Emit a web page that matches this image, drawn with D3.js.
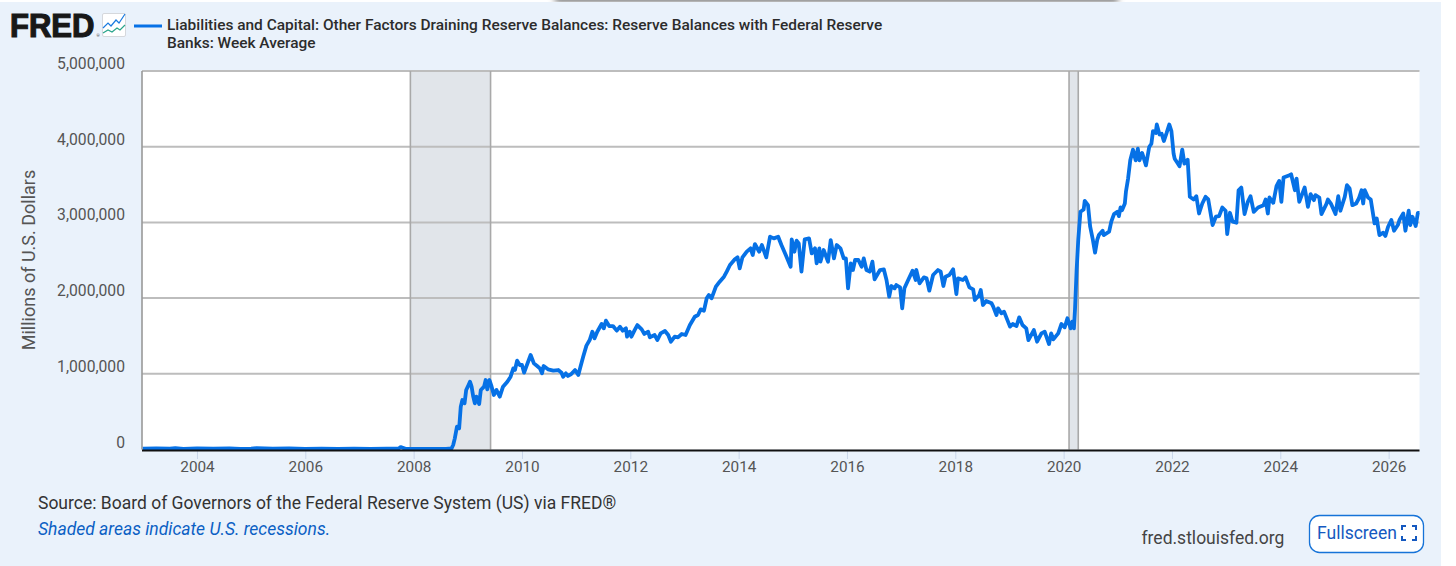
<!DOCTYPE html>
<html>
<head>
<meta charset="utf-8">
<script src="https://cdn.jsdelivr.net/npm/d3@7"></script>
<style>
  html, body { margin: 0; padding: 0; background: #fff; }
  svg { display: block; font-family: Roboto, sans-serif; }
</style>
</head>
<body>
<svg id="chart" width="1456" height="566"></svg>
<script>
// decimal year and reserve balance (thousands of millions)
const years = [
  2003.00,2003.25,2003.50,2003.60,2003.75,2004.00,2004.30,2004.60,2004.80,2005.00,2005.10,2005.40,2005.70,2006.00,2006.30,2006.60,2006.90,2007.20,2007.50,2007.72,2007.76,2007.85,2008.10,2008.40,2008.60,
  2008.70,2008.73,2008.76,2008.80,2008.84,2008.87,2008.90,2008.94,2008.97,2009.00,2009.04,2009.07,2009.10,2009.13,2009.16,2009.21,2009.24,2009.30,2009.33,2009.36,2009.40,2009.44,2009.48,2009.53,2009.59,2009.65,2009.73,2009.79,2009.84,2009.87,2009.91,2009.96,
  2010.00,2010.04,2010.08,2010.16,2010.22,2010.28,2010.33,2010.37,2010.40,2010.48,2010.58,2010.67,2010.73,2010.76,2010.81,2010.85,2010.91,2010.98,
  2011.04,2011.08,2011.13,2011.19,2011.25,2011.30,2011.34,2011.39,2011.47,2011.51,2011.55,2011.61,2011.68,2011.75,2011.81,2011.86,2011.92,2011.94,2011.99,
  2012.02,2012.08,2012.13,2012.21,2012.26,2012.33,2012.36,2012.45,2012.50,2012.56,2012.64,2012.70,2012.75,2012.82,2012.88,2012.95,
  2013.02,2013.10,2013.19,2013.25,2013.30,2013.36,2013.41,2013.45,2013.50,2013.58,2013.65,2013.73,2013.78,2013.84,2013.93,2013.98,
  2014.02,2014.07,2014.15,2014.22,2014.26,2014.30,2014.38,2014.43,2014.51,2014.58,2014.65,2014.73,2014.79,2014.87,2014.96,2014.98,
  2015.03,2015.07,2015.11,2015.16,2015.22,2015.30,2015.35,2015.41,2015.44,2015.49,2015.51,2015.57,2015.65,2015.70,2015.76,2015.81,2015.88,2015.94,2015.98,
  2016.02,2016.07,2016.11,2016.15,2016.21,2016.27,2016.31,2016.36,2016.42,2016.47,2016.51,2016.61,2016.68,2016.73,2016.78,2016.82,2016.88,2016.91,2016.98,
  2017.02,2017.06,2017.13,2017.21,2017.27,2017.28,2017.34,2017.42,2017.47,2017.52,2017.59,2017.68,2017.73,2017.78,2017.82,2017.89,2017.96,
  2018.02,2018.05,2018.14,2018.19,2018.26,2018.33,2018.36,2018.44,2018.47,2018.51,2018.57,2018.67,2018.70,2018.76,2018.79,2018.85,2018.90,
  2019.01,2019.06,2019.13,2019.18,2019.24,2019.31,2019.35,2019.45,2019.51,2019.59,2019.65,2019.73,2019.77,2019.81,2019.90,2019.96,
  2020.02,2020.07,2020.13,2020.16,2020.19,2020.21,2020.24,2020.27,2020.31,2020.37,2020.39,2020.45,2020.49,2020.54,2020.58,2020.62,2020.65,2020.72,2020.74,2020.84,2020.88,2020.93,2020.99,
  2021.02,2021.05,2021.08,2021.13,2021.15,2021.19,2021.23,2021.28,2021.33,2021.37,2021.40,2021.45,2021.52,2021.58,2021.62,2021.65,2021.70,2021.72,2021.77,2021.81,2021.85,2021.90,2021.95,2021.99,
  2022.03,2022.05,2022.09,2022.14,2022.19,2022.23,2022.29,2022.33,2022.40,2022.45,2022.50,2022.56,2022.62,2022.67,2022.75,2022.81,2022.87,2022.93,2022.99,
  2023.02,2023.07,2023.12,2023.19,2023.23,2023.28,2023.34,2023.40,2023.45,2023.51,2023.59,2023.69,2023.73,2023.77,2023.80,2023.87,2023.93,2023.98,
  2024.02,2024.06,2024.17,2024.20,2024.27,2024.30,2024.35,2024.45,2024.51,2024.56,2024.62,2024.65,2024.72,2024.76,2024.85,2024.88,2024.94,
  2025.02,2025.07,2025.11,2025.19,2025.23,2025.28,2025.33,2025.40,2025.45,2025.50,2025.53,2025.56,2025.62,2025.67,2025.74,2025.78,2025.83,2025.90,2025.94,2025.99,
  2026.05,2026.10,2026.17,2026.20,2026.27,2026.31,2026.37,2026.40,2026.44,2026.50,2026.54,2026.57
];
const reserves = [
  12,15,10,18,9,13,10,15,9,12,18,10,13,9,12,8,12,9,10,10,32,8,8,7,8,
  15,59,147,302,280,566,654,610,786,830,896,830,698,610,698,601,786,830,918,795,918,830,720,786,698,830,896,962,1072,1050,1173,1116,
  1116,1015,1094,1248,1138,1103,1072,1006,1103,1059,1041,1050,1015,962,1006,971,997,1050,
  984,1094,1226,1372,1446,1556,1468,1556,1658,1600,1702,1631,1631,1570,1622,1570,1600,1490,1556,
  1490,1578,1644,1587,1526,1556,1482,1512,1446,1534,1565,1512,1424,1490,1482,1526,
  1512,1644,1754,1777,1851,1834,1997,2041,1997,2151,2217,2283,2349,2437,2512,2538,
  2393,2538,2613,2657,2569,2714,2613,2701,2538,2811,2789,2811,2701,2569,2415,2776,
  2613,2758,2723,2349,2776,2789,2591,2657,2459,2657,2481,2635,2481,2767,2525,2701,2657,2525,2525,
  2129,2459,2371,2503,2503,2415,2525,2371,2349,2481,2248,2371,2380,2239,2019,2160,2129,2173,2142,
  1865,2129,2239,2362,2239,2371,2195,2274,2261,2098,2305,2371,2349,2160,2283,2305,2380,
  2054,2261,2239,2274,2142,2116,1975,2041,2107,1909,1962,1931,1887,1777,1865,1799,1821,
  1623,1658,1631,1746,1644,1600,1446,1578,1424,1534,1556,1393,1534,1455,1534,1658,
  1614,1733,1600,1689,1600,1850,2373,2768,3140,3171,3285,3228,2943,2768,2601,2768,2833,2890,2833,2877,3009,3110,3140,
  3083,3197,3162,3250,3404,3579,3820,3961,3820,3974,3820,3917,3754,3996,4039,4206,4180,4294,4162,4171,4075,4180,4294,4206,
  3908,3842,3798,3741,3961,3776,3829,3338,3303,3346,3118,3250,3338,3303,2965,3075,3083,3197,3154,
  2846,3127,3009,2996,3425,3461,3110,3272,3346,3140,3197,3228,3303,3118,3329,3259,3478,3548,
  3272,3592,3623,3636,3425,3579,3272,3461,3206,3373,3294,3360,3329,3110,3241,3303,3241,
  3110,3346,3154,3338,3491,3447,3228,3250,3316,3425,3250,3425,3329,3303,2987,3053,2833,2864,2820,2943,
  3031,2890,2965,3031,3118,2890,3154,2965,3075,2952,3127,3127
];
const yTicks = [0, 1000000, 2000000, 3000000, 4000000, 5000000];
const xTicks = [2004, 2006, 2008, 2010, 2012, 2014, 2016, 2018, 2020, 2022, 2024, 2026];
const recessions = [[2007.94, 2009.42], [2020.10, 2020.27]];
const titleLines = [
  'Liabilities and Capital: Other Factors Draining Reserve Balances: Reserve Balances with Federal Reserve',
  'Banks: Week Average'
];

const svg = d3.select('#chart');
const x = d3.scaleLinear().domain([2002.985, 2026.57]).range([142, 1419.5]);
const y = d3.scaleLinear().domain([0, 5000000]).range([449.5, 71]);
const blue = '#0671e6';

// panel + the shadow strip of the page above it
svg.append('defs').append('filter').attr('id', 'blur')
  .append('feGaussianBlur').attr('stdDeviation', 3);
svg.append('rect').attr('x', 555).attr('y', -7).attr('width', 563).attr('height', 8)
  .attr('fill', '#555').attr('filter', 'url(#blur)');
svg.append('rect').attr('x', 0).attr('y', 2).attr('width', 1441).attr('height', 564).attr('fill', '#eaf2fb');

// logo
svg.append('text').attr('transform', 'translate(10,37) scale(0.94,1)')
  .style('font-family', '"Liberation Sans", sans-serif')
  .style('font-weight', 700).style('font-size', '33px')
  .attr('fill', '#181818').attr('stroke', '#181818').attr('stroke-width', 1.2)
  .text('FRED');
svg.append('text').attr('x', 96.5).attr('y', 37).style('font-size', '4px').attr('fill', '#444').text('®');
svg.append('rect').attr('x', 102.5).attr('y', 13.5).attr('width', 23).attr('height', 23).attr('rx', 1.5)
  .attr('fill', '#fff').attr('stroke', '#d5d8dc');
svg.append('path').attr('d', 'M103 28L108 23L111 26L116 20L119 23L125 14')
  .attr('fill', 'none').attr('stroke', '#1a7be0').attr('stroke-width', 1.2);
svg.append('path').attr('d', 'M103 33L108 30L112 32L117 28L120 30L125 25')
  .attr('fill', 'none').attr('stroke', '#2aa58c').attr('stroke-width', 1.2);

// legend
svg.append('line').attr('x1', 134).attr('x2', 162).attr('y1', 26).attr('y2', 26)
  .attr('stroke', blue).attr('stroke-width', 3);
svg.append('g').selectAll('text').data(titleLines).join('text')
  .attr('x', 167).attr('y', (d, i) => 30 + i * 18.3)
  .attr('fill', '#2c2c2c').style('font-size', '15.44px').style('font-weight', 500)
  .text(d => d);

// plot area
svg.append('rect').attr('x', x.range()[0]).attr('y', y(5000000))
  .attr('width', x.range()[1] - x.range()[0]).attr('height', y(0) - y(5000000)).attr('fill', '#fff');

svg.append('g').selectAll('rect').data(recessions).join('rect')
  .attr('x', d => x(d[0])).attr('y', y(5000000))
  .attr('width', d => x(d[1]) - x(d[0])).attr('height', y(0) - y(5000000))
  .attr('fill', '#e1e5ea');

// y axis, labels sit on top of the gridlines
const yAxis = svg.append('g').attr('transform', 'translate(142,0)')
  .call(d3.axisLeft(y).tickValues(yTicks).tickFormat(d3.format(',')).tickSize(0).tickPadding(17));
yAxis.select('.domain').remove();
yAxis.selectAll('text').attr('dy', '-0.16em').attr('fill', '#555').style('font-size', '15.7px')
  .style('font-family', 'Roboto, sans-serif');

svg.append('g').selectAll('line').data(yTicks.filter(d => d > 0)).join('line')
  .attr('x1', x.range()[0]).attr('x2', x.range()[1])
  .attr('y1', d => y(d)).attr('y2', d => y(d))
  .attr('stroke', '#bdbdbd').attr('stroke-width', 2);

svg.append('g').selectAll('line').data(recessions.flat()).join('line')
  .attr('x1', d => x(d)).attr('x2', d => x(d))
  .attr('y1', y(5000000)).attr('y2', y(0))
  .attr('stroke', '#a9a9a9').attr('stroke-width', 1.6);

svg.append('line').attr('x1', 142).attr('x2', 142).attr('y1', y(5000000)).attr('y2', y(0))
  .attr('stroke', '#999').attr('stroke-width', 1.6);

// x axis
const xAxis = svg.append('g').attr('transform', 'translate(0,450)')
  .call(d3.axisBottom(x).tickValues(xTicks).tickFormat(d3.format('d')).tickSize(9).tickPadding(2));
xAxis.select('.domain').remove();
xAxis.selectAll('line').attr('stroke', '#c9d6ea');
xAxis.selectAll('text').attr('fill', '#555').style('font-size', '15.3px')
  .style('font-family', 'Roboto, sans-serif');

// series
const line = d3.line().x((d, i) => x(years[i])).y(d => y(d * 1000));
svg.append('path').datum(reserves)
  .attr('d', line).attr('fill', 'none')
  .attr('stroke', blue).attr('stroke-width', 3.8).attr('stroke-linejoin', 'round');

// baseline goes over the foot of the series
svg.append('line').attr('x1', 142).attr('x2', 1419.5).attr('y1', 450.5).attr('y2', 450.5)
  .attr('stroke', '#111').attr('stroke-width', 2);

// y title
svg.append('text').attr('transform', 'translate(35,260) rotate(-90)')
  .attr('text-anchor', 'middle').attr('fill', '#555').style('font-size', '18px')
  .text('Millions of U.S. Dollars');

// footer
svg.append('text').attr('x', 38).attr('y', 509).attr('fill', '#333').style('font-size', '17.5px')
  .text('Source: Board of Governors of the Federal Reserve System (US) via FRED®');
svg.append('text').attr('x', 38).attr('y', 535).attr('fill', '#0a60c4').style('font-size', '17.5px')
  .style('font-style', 'italic').text('Shaded areas indicate U.S. recessions.');
svg.append('text').attr('x', 1141.5).attr('y', 544).attr('fill', '#444').style('font-size', '17.5px')
  .text('fred.stlouisfed.org');

// fullscreen button
svg.append('rect').attr('x', 1309.5).attr('y', 515.5).attr('width', 114).attr('height', 37).attr('rx', 10)
  .attr('fill', '#fff').attr('stroke', '#1673d8').attr('stroke-width', 1.3);
svg.append('text').attr('x', 1317).attr('y', 539).attr('fill', '#1559c0').style('font-size', '17.5px')
  .text('Fullscreen');
svg.append('path')
  .attr('d', 'M1402 530v-4h4M1412 526h4v4M1416 536v4h-4M1406 540h-4v-4')
  .attr('fill', 'none').attr('stroke', '#1559c0').attr('stroke-width', 2);
</script>
</body>
</html>
